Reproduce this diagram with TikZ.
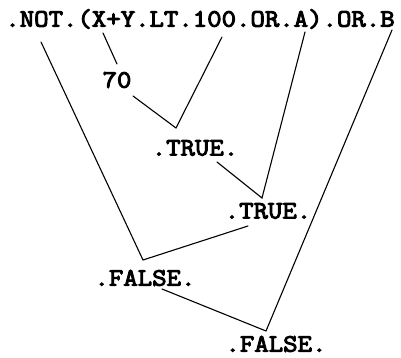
\documentclass[tikz,border=0pt]{standalone}
\usepackage{fontspec}
\newfontfamily\slab{Latin Modern Mono}[FakeStretch=1.12, FakeBold=4]
\begin{document}
\begin{tikzpicture}[x=1pt,y=-1pt,
  lbl/.style={font=\slab\fontsize{25}{25}\selectfont, inner sep=0pt, anchor=center},
  wire/.style={line width=1.1pt, line cap=round}]
\useasboundingbox (0,0) rectangle (401,358);
\node[lbl] (top) at (200,19) {.NOT.(X+Y.LT.100.OR.A).OR.B};
\node[lbl] (seventy) at (117,80) {70};
\node[lbl] (t1) at (195,148) {.TRUE.};
\node[lbl] (t2) at (268,211) {.TRUE.};
\node[lbl] (f1) at (145,278) {.FALSE.};
\node[lbl] (f2) at (276,344) {.FALSE.};
% endpoints
\coordinate (pNOT) at (41,42);
\coordinate (pXY) at (103,33);
\coordinate (p70a) at (117,64);
\coordinate (p70b) at (133,96);
\coordinate (p100) at (222,37);
\coordinate (v1) at (176,128);
\coordinate (pA) at (305,32);
\coordinate (t1b) at (217,162);
\coordinate (v2) at (262,198);
\coordinate (t2b) at (248,226);
\coordinate (v3) at (143,260);
\coordinate (pB) at (392,30);
\coordinate (f1b) at (162,289);
\coordinate (v4) at (266,331);
\draw[wire] (pXY) -- (p70a);
\draw[wire] (p70b) -- (v1) -- (p100);
\draw[wire] (t1b) -- (v2) -- (pA);
\draw[wire] (pNOT) -- (v3) -- (t2b);
\draw[wire] (f1b) -- (v4) -- (pB);
\end{tikzpicture}
\end{document}
